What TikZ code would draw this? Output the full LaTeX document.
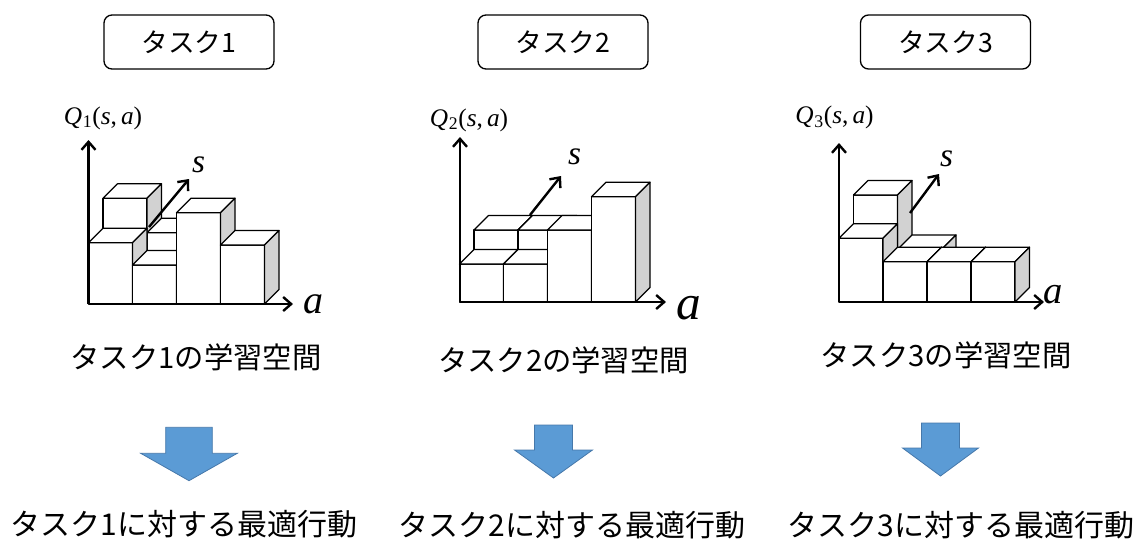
\documentclass[tikz,border=0pt]{standalone}
\usepackage{fontspec}
\setmainfont{Liberation Serif}
\newfontfamily\jpfont{Noto Sans CJK JP}
\newfontfamily\tmsfont{Liberation Serif}
\usetikzlibrary{arrows.meta}
\definecolor{sidegray}{RGB}{210,210,210}
\definecolor{arrowblue}{RGB}{91,155,213}
\definecolor{arrowedge}{RGB}{70,120,170}
\tikzset{
  cubeline/.style={draw=black, line width=0.9pt, line join=round},
  axisline/.style={line width=1.8pt, -{Straight Barb[length=6pt,width=10.5pt]}},
  titlebox/.style={draw=black, line width=1pt, rounded corners=6pt, fill=white,
    minimum width=127.5pt, minimum height=40.5pt, inner sep=0pt,
    font=\jpfont\fontsize{20pt}{24pt}\selectfont},
  spacetext/.style={inner sep=0pt, font=\jpfont\fontsize{22pt}{26pt}\selectfont},
  acttext/.style={inner sep=0pt, anchor=base, font=\jpfont\fontsize{22.5pt}{27pt}\selectfont},
  qlabel/.style={inner sep=0pt, font=\tmsfont\fontsize{19pt}{22pt}\selectfont},
  varlabel/.style={inner sep=0pt, font=\tmsfont\itshape},
  bluearrow/.style={fill=arrowblue, draw=arrowedge, line width=0.6pt, line join=miter}
}
% x0, base y, width, height (pixel units, y downward)
\newcommand\qcube[4]{%
  \filldraw[cubeline, fill=white] (#1,#2) rectangle (#1+#3,#2-#4);
  \filldraw[cubeline, fill=white] (#1,#2-#4) -- (#1+14.5,#2-#4-14.5) -- (#1+#3+14.5,#2-#4-14.5) -- (#1+#3,#2-#4) -- cycle;
  \filldraw[cubeline, fill=sidegray] (#1+#3,#2) -- (#1+#3+14.5,#2-14.5) -- (#1+#3+14.5,#2-#4-14.5) -- (#1+#3,#2-#4) -- cycle;
}
% centre x, shaft top, head top, tip y, half shaft, half head
\newcommand\bluedown[6]{%
  \filldraw[bluearrow] (#1-#5,#2) -- (#1+#5,#2) -- (#1+#5,#3) -- (#1+#6,#3) -- (#1,#4) -- (#1-#6,#3) -- (#1-#5,#3) -- cycle;
}
\newcommand\Qlab[1]{\itshape Q\kern0.5pt\textsubscript{\upshape #1}\upshape(\itshape s\upshape,\kern3pt\itshape a\upshape)}
\begin{document}
\begin{tikzpicture}[x=0.75pt, y=-0.75pt]
\useasboundingbox (0,0) rectangle (1136,540);
\clip (0,0) rectangle (1136,540);

% ---------- titles ----------
\node[titlebox] (t1) at (189,42) {タスク1};
\node[titlebox] (t2) at (563,42) {タスク2};
\node[titlebox] (t3) at (945.5,42) {タスク3};

% ---------- chart 1 ----------
\qcube{103}{289.5}{44}{91.2}
\qcube{147}{289.5}{44}{56.8}
\qcube{88.5}{304}{44}{61.3}
\qcube{132.5}{304}{44}{39}
\qcube{176.5}{304}{44}{91.3}
\qcube{220.5}{304}{44}{59}
\coordinate (o1) at (88.5,304);
\coordinate (q1top) at (88.5,140);
\coordinate (a1tip) at (293,304);
\coordinate (s1base) at (149,227);
\coordinate (s1tip) at (189,179);
\draw[axisline] (o1) -- (q1top);
\draw[axisline] (o1) -- (a1tip);
\draw[axisline] (s1base) -- (s1tip);
\node[qlabel] (q1) at (103,118) {\Qlab{1}};
\node[varlabel, font=\tmsfont\itshape\fontsize{25pt}{28pt}\selectfont] (sl1) at (198.5,165) {s};
\node[varlabel, font=\tmsfont\itshape\fontsize{30pt}{34pt}\selectfont] (al1) at (313.5,304) {a};

% ---------- chart 2 ----------
\qcube{474}{287.5}{44}{57.5}
\qcube{518}{287.5}{44}{57.5}
\qcube{459.5}{302}{44}{38}
\qcube{503.5}{302}{44}{38}
\qcube{547.5}{302}{44}{72}
\qcube{591.5}{302}{44}{105.3}
\coordinate (o2) at (460,302);
\coordinate (q2top) at (460,137);
\coordinate (a2tip) at (666,302);
\coordinate (s2base) at (530,215);
\coordinate (s2tip) at (561,176);
\draw[axisline] (o2) -- (q2top);
\draw[axisline] (o2) -- (a2tip);
\draw[axisline] (s2base) -- (s2tip);
\node[qlabel] (q2) at (469,120) {\Qlab{2}};
\node[varlabel, font=\tmsfont\itshape\fontsize{25pt}{28pt}\selectfont] (sl2) at (574.5,157) {s};
\node[varlabel, font=\tmsfont\itshape\fontsize{37pt}{40pt}\selectfont] (al2) at (688.5,308) {a};

% ---------- chart 3 ----------
\qcube{853.5}{287.5}{44}{92.5}
\qcube{897.5}{287.5}{44}{38}
\qcube{839}{302}{44}{63.7}
\qcube{883}{302}{44}{40.3}
\qcube{927}{302}{44}{40.3}
\qcube{971}{302}{44}{40.3}
\coordinate (o3) at (839,302);
\coordinate (q3top) at (839,143);
\coordinate (a3tip) at (1044,302);
\coordinate (s3base) at (910,213);
\coordinate (s3tip) at (939,174);
\draw[axisline] (o3) -- (q3top);
\draw[axisline] (o3) -- (a3tip);
\draw[axisline] (s3base) -- (s3tip);
\node[qlabel] (q3) at (834.5,117.5) {\Qlab{3}};
\node[varlabel, font=\tmsfont\itshape\fontsize{25pt}{28pt}\selectfont] (sl3) at (946.5,159) {s};
\node[varlabel, font=\tmsfont\itshape\fontsize{29pt}{32pt}\selectfont] (al3) at (1053,295) {a};

% ---------- learning-space captions ----------
\node[spacetext] (c1) at (196,357.5) {タスク1の学習空間};
\node[spacetext] (c2) at (563.5,360) {タスク2の学習空間};
\node[spacetext] (c3) at (946,355) {タスク3の学習空間};

% ---------- block arrows ----------
\bluedown{189}{427.3}{453.3}{480.7}{23.3}{48.3}
\bluedown{553.5}{425}{450}{478}{19}{39}
\bluedown{940.5}{423}{448}{476}{19}{38}

% ---------- optimal action captions ----------
\node[acttext] (b1) at (184,535.5) {タスク1に対する最適行動};
\node[acttext] (b2) at (572,536.5) {タスク2に対する最適行動};
\node[acttext] (b3) at (961,536.5) {タスク3に対する最適行動};
\end{tikzpicture}
\end{document}
